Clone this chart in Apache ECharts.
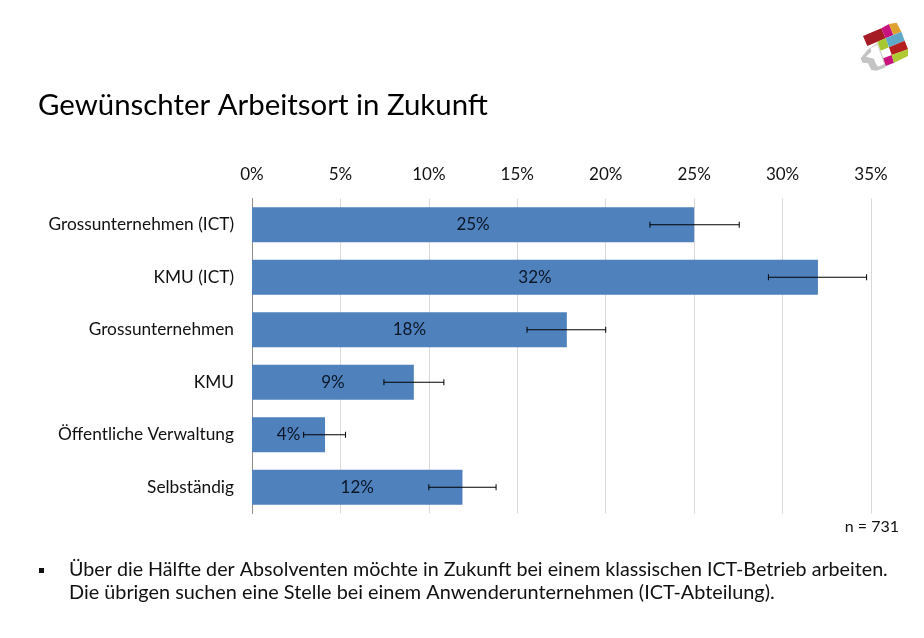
<!DOCTYPE html>
<html>
<head>
<meta charset="utf-8">
<title>Gewünschter Arbeitsort in Zukunft</title>
<script src="https://cdn.jsdelivr.net/npm/echarts@6/dist/echarts.min.js"></script>
<style>
  html, body { margin: 0; padding: 0; background: #fff; }
  #chart { width: 924px; height: 638px; }
</style>
</head>
<body>
<div id="chart"></div>
<script>
const categories = ['Grossunternehmen (ICT)', 'KMU (ICT)', 'Grossunternehmen', 'KMU', 'Öffentliche Verwaltung', 'Selbständig'];
const shares = [25, 32, 17.8, 9.15, 4.13, 11.9];
const errorLow = [22.5, 29.2, 15.55, 7.46, 2.92, 10];
const errorHigh = [27.55, 34.75, 20, 10.85, 5.29, 13.8];
const tickStep = 5;
const axisMax = 35;

const FONT = 'Lato, "Open Sans", sans-serif';

// logo: colored quads of the tilted cube, [color, points] at 3x scale, origin 844,10
const logoParts = [
  ['#c4c4c4', [[50, 145], [72, 118], [100, 100], [118, 145], [125, 172], [98, 182], [82, 180], [72, 160], [55, 158]]],
  ['#ffffff', [[66, 140], [82, 125], [80, 114], [100, 104], [113, 140], [120, 163], [102, 170], [94, 158], [90, 146]]],
  ['#a51c24', [[57, 78], [112, 55], [125, 85], [70, 108]]],
  ['#c8137f', [[112, 55], [135, 42], [148, 75], [125, 85]]],
  ['#e0a030', [[135, 42], [158, 38], [172, 65], [148, 75]]],
  ['#a8c832', [[100, 95], [125, 85], [135, 112], [110, 122]]],
  ['#5fa8c8', [[125, 85], [172, 65], [182, 92], [135, 112]]],
  ['#b5201f', [[135, 112], [182, 92], [192, 118], [143, 135]]],
  ['#c8137f', [[118, 145], [143, 135], [150, 158], [125, 168]]],
  ['#b0c832', [[143, 135], [192, 118], [192, 138], [150, 158]]]
];

const chart = echarts.init(document.getElementById('chart'), null, { renderer: 'canvas' });

chart.setOption({
  animation: false,
  backgroundColor: '#ffffff',
  textStyle: { fontFamily: FONT },
  grid: { left: 252, top: 198.5, width: 619, height: 315, containLabel: false },
  xAxis: {
    type: 'value',
    position: 'top',
    min: 0,
    max: axisMax,
    interval: tickStep,
    axisLine: { show: false },
    axisTick: { show: false },
    axisLabel: { formatter: '{value}%', color: '#111', fontSize: 17, fontFamily: FONT, margin: 15 },
    splitLine: { show: true, lineStyle: { color: '#d9d9d9', width: 1 } }
  },
  yAxis: {
    type: 'category',
    inverse: true,
    data: categories,
    axisLine: { show: true, lineStyle: { color: '#8c8c8c', width: 1 } },
    axisTick: { show: false },
    axisLabel: { color: '#111', fontSize: 17.3, fontFamily: FONT, margin: 18, padding: [4, 0, 0, 0] }
  },
  series: [
    {
      type: 'bar',
      data: shares,
      barWidth: 35,
      itemStyle: { color: '#4f81bd' },
      label: {
        show: true,
        position: 'inside',
        color: '#0b1626',
        fontSize: 17,
        fontFamily: FONT,
        padding: [5, 0, 0, 0],
        formatter: p => Math.round(p.value) + '%'
      }
    },
    {
      type: 'custom',
      data: categories.map((c, i) => [i, errorLow[i], errorHigh[i]]),
      encode: { x: [1, 2], y: 0 },
      z: 5,
      renderItem: (params, api) => {
        const low = api.coord([api.value(1), api.value(0)]);
        const high = api.coord([api.value(2), api.value(0)]);
        const style = { stroke: '#000', lineWidth: 1, fill: null };
        const cap = 3;
        return {
          type: 'group',
          children: [
            { type: 'line', shape: { x1: low[0], y1: low[1], x2: high[0], y2: high[1] }, style },
            { type: 'line', shape: { x1: low[0], y1: low[1] - cap, x2: low[0], y2: low[1] + cap }, style },
            { type: 'line', shape: { x1: high[0], y1: high[1] - cap, x2: high[0], y2: high[1] + cap }, style }
          ]
        };
      }
    }
  ],
  graphic: [
    { type: 'text', left: 38, top: 91, style: { text: 'Gewünschter Arbeitsort in Zukunft', fill: '#000', font: '29.4px ' + FONT } },
    { type: 'text', right: 25, top: 519, style: { text: 'n = 731', fill: '#111', font: '16px ' + FONT } },
    { type: 'rect', shape: { x: 39, y: 568, width: 5, height: 5 }, style: { fill: '#111' } },
    { type: 'text', left: 69, top: 560, style: { text: 'Über die Hälfte der Absolventen möchte in Zukunft bei einem klassischen ICT-Betrieb arbeiten.', fill: '#111', font: '19.7px ' + FONT } },
    { type: 'text', left: 69, top: 583, style: { text: 'Die übrigen suchen eine Stelle bei einem Anwenderunternehmen (ICT-Abteilung).', fill: '#111', font: '19.85px ' + FONT } }
  ].concat(logoParts.map(part => ({
    type: 'polygon',
    shape: { points: part[1].map(p => [844 + p[0] / 3, 10 + p[1] / 3]) },
    style: { fill: part[0] }
  })))
});
</script>
</body>
</html>
